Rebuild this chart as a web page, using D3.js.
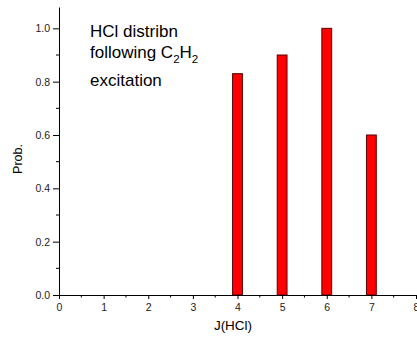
<!DOCTYPE html>
<html><head><meta charset="utf-8">
<script src="https://cdn.jsdelivr.net/npm/d3@7"></script>
<style>body{margin:0;background:#fff}svg{display:block;font-family:Arial,"Liberation Sans",sans-serif}</style>
</head><body>
<svg id="c" width="417" height="338"></svg>
<script>
const categories = [4, 5, 6, 7];
const probValues = [0.83, 0.90, 1.0, 0.60];
const xTicks = [0,1,2,3,4,5,6,7,8];
const yTicks = [0.0,0.2,0.4,0.6,0.8,1.0];
const xMinor = [0.5,1.5,2.5,3.5,4.5,5.5,6.5,7.5];
const yMinor = [0.1,0.3,0.5,0.7,0.9];

const svg = d3.select("#c");
const x = d3.scaleLinear().domain([0,8]).range([59,416]);
const y = d3.scaleLinear().domain([0,1.08]).range([295,7]);

const barW = x(0.22)-x(0);
svg.selectAll("rect.bar").data(categories).enter().append("rect")
  .attr("class","bar")
  .attr("x",(d)=>x(d)-barW/2)
  .attr("y",(d,i)=>y(probValues[i]))
  .attr("width",barW)
  .attr("height",(d,i)=>y(0)-y(probValues[i]))
  .attr("fill","#ff0000").attr("stroke","#5a0000").attr("stroke-width",1);

const xAxis = d3.axisBottom(x).tickValues(xTicks).tickFormat(d3.format("d")).tickSize(4).tickSizeOuter(0).tickPadding(5);
const gx = svg.append("g").attr("transform","translate(0,295)").call(xAxis);
gx.selectAll("text").attr("font-size",10.5).attr("fill","#222");
gx.append("g").selectAll("line").data(xMinor).enter().append("line")
  .attr("x1",d=>x(d)).attr("x2",d=>x(d)).attr("y1",0).attr("y2",2.5).attr("stroke","#000");

const yAxis = d3.axisLeft(y).tickValues(yTicks).tickFormat(d3.format(".1f")).tickSize(6).tickSizeOuter(0).tickPadding(3);
const gy = svg.append("g").attr("transform","translate(59,0)").call(yAxis);
gy.selectAll("text").attr("font-size",10.5).attr("fill","#222");
gy.append("g").selectAll("line").data(yMinor).enter().append("line")
  .attr("y1",d=>y(d)).attr("y2",d=>y(d)).attr("x1",0).attr("x2",-3).attr("stroke","#000");
svg.selectAll(".domain").attr("stroke","#000");

svg.append("text").attr("x",233).attr("y",330).attr("text-anchor","middle").attr("font-size",13.5).text("J(HCl)");
svg.append("text").attr("transform","translate(22,159) rotate(-90)").attr("text-anchor","middle").attr("font-size",12.5).text("Prob.");

const ann = svg.append("g").attr("font-size",17).attr("fill","#000");
ann.append("text").attr("x",90).attr("y",37).text("HCl distribn");
const t2 = ann.append("text").attr("x",90).attr("y",58);
t2.append("tspan").text("following C");
t2.append("tspan").attr("font-size",11.5).attr("dy",5).text("2");
t2.append("tspan").attr("dy",-5).text("H");
t2.append("tspan").attr("font-size",11.5).attr("dy",5).text("2");
ann.append("text").attr("x",90).attr("y",86).text("excitation");
</script>
</body></html>
